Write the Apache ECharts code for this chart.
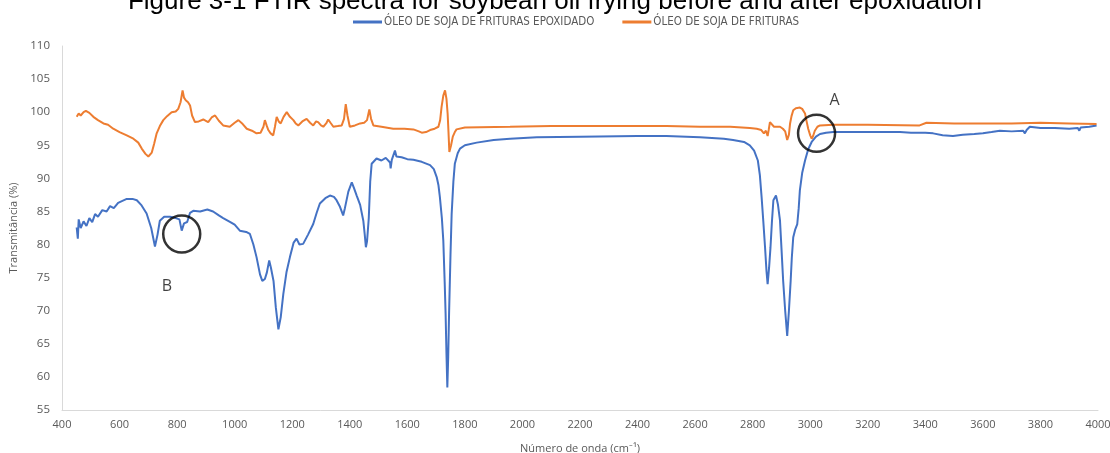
<!DOCTYPE html>
<html>
<head>
<meta charset="utf-8">
<script src="https://cdn.jsdelivr.net/npm/echarts@6/dist/echarts.min.js"></script>
<style>html,body{margin:0;padding:0;background:#fff;}#c{width:1110px;height:453px;}</style>
</head>
<body>
<div id="c"></div>
<script>
const titleText = "Figure 3-1 FTIR spectra for soybean oil frying before and after epoxidation";
const seriesNames = ["ÓLEO DE SOJA DE FRITURAS EPOXIDADO", "ÓLEO DE SOJA DE FRITURAS"];
const xAxisName = "Número de onda (cm⁻¹)";
const yAxisName = "Transmitância (%)";

const blueWn = [451,455,458,465,475,485,495,505,515,525,540,555,567,580,595,610,625,645,660,675,694,710,723,732,740,755,775,795,808,816,824,835,845,856,880,905,925,945,960,985,1000,1018,1040,1053,1065,1076,1088,1096,1105,1112,1120,1126,1135,1143,1152,1160,1169,1180,1192,1205,1215,1225,1238,1255,1273,1285,1296,1315,1331,1345,1354,1365,1377,1383,1395,1407,1415,1424,1436,1447,1452,1456,1460,1466,1471,1476,1493,1510,1525,1540,1542,1546,1552,1557,1562,1580,1600,1621,1650,1679,1692,1702,1708,1713,1720,1725,1730,1733,1736,1739,1742,1745,1750,1754,1760,1765,1775,1783,1800,1841,1900,1957,2050,2200,2400,2500,2617,2700,2732,2770,2790,2805,2818,2825,2831,2837,2843,2848,2852,2857,2862,2867,2872,2881,2888,2895,2900,2906,2913,2920,2926,2932,2936,2941,2948,2955,2960,2964,2972,2982,2993,3005,3020,3034,3055,3080,3200,3312,3350,3400,3427,3460,3496,3530,3570,3600,3630,3659,3700,3740,3746,3752,3763,3800,3850,3900,3930,3935,3940,3970,3995];
const blueT = [82.6,80.9,83.8,82.5,83.5,82.8,84.0,83.4,84.6,84.2,85.2,85.0,85.8,85.5,86.3,86.6,86.9,86.9,86.7,86.0,84.7,82.5,79.7,81.5,83.6,84.2,84.2,84.0,83.8,82.1,83.2,83.4,84.8,85.1,85.0,85.3,85.0,84.4,84.0,83.4,83.0,82.1,81.9,81.6,80.0,78.1,75.5,74.5,74.8,75.8,77.6,76.5,74.5,70.5,67.2,69.0,72.5,75.8,78.1,80.3,80.9,80.0,80.1,81.5,83.1,84.8,86.2,87.0,87.4,87.2,86.7,85.8,84.4,85.5,88.0,89.4,88.5,87.4,86.0,83.6,81.5,79.6,80.5,84.0,89.5,92.2,93.0,92.7,93.1,92.4,91.5,92.8,92.9,94.2,93.3,93.2,92.9,92.8,92.5,92.0,91.4,90.2,89.0,87.2,84.0,80.6,74.0,69.5,63.5,58.4,63.0,69.5,78.5,84.6,89.5,92.2,93.8,94.5,95.0,95.4,95.8,96.0,96.2,96.3,96.4,96.4,96.2,96.0,95.8,95.5,95.0,94.2,92.7,90.5,87.2,83.5,79.6,76.0,74.0,76.5,79.6,83.5,86.7,87.4,86.0,83.6,79.5,74.5,70.0,66.2,70.0,74.5,78.0,81.1,82.3,83.1,85.5,88.2,90.8,92.7,94.4,95.5,96.3,96.7,96.9,97.0,97.0,97.0,96.9,96.9,96.8,96.5,96.4,96.6,96.7,96.8,97.0,97.2,97.1,97.2,96.8,97.3,97.8,97.6,97.6,97.5,97.6,97.2,97.7,97.8,98.0];

const orangeWn = [451,458,465,475,483,495,509,525,544,560,578,600,625,648,665,677,690,700,712,720,729,740,752,765,781,795,804,812,819,824,830,838,845,852,862,875,891,900,908,920,932,945,960,983,1000,1013,1028,1042,1060,1076,1090,1100,1105,1111,1117,1125,1134,1140,1146,1153,1160,1170,1181,1192,1204,1212,1221,1235,1250,1262,1273,1283,1290,1300,1308,1318,1325,1333,1343,1358,1372,1380,1386,1392,1400,1418,1436,1450,1460,1468,1474,1482,1510,1551,1590,1621,1640,1650,1665,1679,1695,1708,1714,1719,1725,1731,1736,1740,1743,1746,1752,1758,1765,1771,1800,1957,2100,2300,2500,2617,2722,2790,2814,2830,2839,2846,2852,2856,2860,2866,2874,2895,2905,2913,2920,2926,2930,2935,2941,2950,2964,2972,2982,2988,2993,3000,3005,3010,3016,3025,3034,3080,3200,3380,3404,3500,3600,3700,3800,3900,3995];
const orangeT = [99.3,99.8,99.5,100.0,100.2,99.9,99.3,98.8,98.3,98.1,97.5,97.0,96.5,96.0,95.4,94.5,93.7,93.3,93.9,95.2,96.8,97.9,98.8,99.4,100.0,100.1,100.5,101.5,103.3,102.2,101.8,101.5,101.0,99.5,98.5,98.6,98.9,98.7,98.5,99.2,99.5,98.7,98.0,97.8,98.4,98.8,98.2,97.5,97.2,96.8,96.9,97.8,98.8,98.0,97.3,96.8,96.5,97.8,99.3,98.6,98.3,99.3,100.0,99.3,98.8,98.3,98.0,98.6,99.0,98.4,98.0,98.6,98.5,98.0,97.8,98.3,98.9,98.4,97.8,97.9,98.0,99.0,101.2,99.5,97.8,98.0,98.3,98.4,98.8,100.4,99.0,98.0,97.8,97.5,97.5,97.4,97.1,96.9,97.0,97.3,97.5,97.8,98.8,100.8,102.5,103.3,102.0,99.8,97.0,94.0,95.0,96.3,97.0,97.4,97.7,97.8,97.9,97.9,97.9,97.8,97.8,97.6,97.5,97.3,96.8,97.2,96.4,97.4,98.5,98.2,97.8,97.8,97.5,97.1,95.8,96.6,98.3,99.4,100.3,100.6,100.7,100.5,99.8,98.5,97.5,96.5,96.0,96.4,97.2,97.8,98.0,98.1,98.1,98.0,98.4,98.3,98.3,98.3,98.4,98.3,98.2];

const circleMarks = [[3022, 96.8], [816, 81.6]];
const letterLabels = [["A", 3085, 101.7], ["B", 765, 73.7]];

const xTicks = {min: 400, max: 4000, interval: 200};
const yTicks = {min: 55, max: 110, interval: 5};

const zip = (a, b) => a.map((v, i) => [v, b[i]]);

const chart = echarts.init(document.getElementById('c'));
chart.setOption({
  animation: false,
  backgroundColor: '#fff',
  title: {
    text: titleText,
    left: 'center',
    top: -11,
    padding: 0,
    textStyle: {fontFamily: 'Liberation Sans', fontSize: 26, fontWeight: 'normal', color: '#000'}
  },
  legend: {
    data: seriesNames,
    left: 348,
    top: 11,
    icon: 'rect',
    itemWidth: 29,
    itemHeight: 3,
    itemGap: 28,
    textStyle: {fontFamily: 'DejaVu Sans Condensed', fontSize: 11.5, color: '#595959', padding: [0, 0, 0, -3]}
  },
  grid: {left: 62, right: 12, top: 46, bottom: 43, containLabel: false, outerBoundsMode: 'none'},
  xAxis: {
    type: 'value',
    min: xTicks.min, max: xTicks.max, interval: xTicks.interval,
    name: xAxisName,
    nameLocation: 'middle',
    nameGap: 33,
    nameTextStyle: {fontFamily: 'Open Sans', fontSize: 11, color: '#595959'},
    axisLine: {show: true, lineStyle: {color: '#d9d9d9', width: 1}},
    axisTick: {show: false},
    splitLine: {show: false},
    axisLabel: {fontFamily: 'Open Sans', fontSize: 11, color: '#595959', margin: 9, formatter: v => String(v)}
  },
  yAxis: {
    type: 'value',
    min: yTicks.min, max: yTicks.max, interval: yTicks.interval,
    name: yAxisName,
    nameLocation: 'middle',
    nameGap: 30,
    nameTextStyle: {fontFamily: 'Open Sans', fontSize: 11, color: '#595959'},
    axisLine: {show: true, lineStyle: {color: '#d9d9d9', width: 1}},
    axisTick: {show: false},
    splitLine: {show: false},
    axisLabel: {fontFamily: 'Open Sans', fontSize: 11.5, color: '#595959', margin: 12}
  },
  series: [
    {
      name: seriesNames[0], type: 'line', data: zip(blueWn, blueT),
      showSymbol: false, symbol: 'none', smooth: false,
      lineStyle: {color: '#4472C4', width: 2}, itemStyle: {color: '#4472C4'}, z: 2
    },
    {
      name: seriesNames[1], type: 'line', data: zip(orangeWn, orangeT),
      showSymbol: false, symbol: 'none', smooth: false,
      lineStyle: {color: '#ED7D31', width: 2}, itemStyle: {color: '#ED7D31'}, z: 3
    },
    {
      name: 'circles', type: 'scatter', data: circleMarks,
      symbol: 'circle', symbolSize: 37,
      itemStyle: {color: 'rgba(0,0,0,0)', borderColor: '#000', borderWidth: 2.5}, z: 5, silent: true
    },
    {
      name: 'letters', type: 'scatter', data: letterLabels.map(d => ({value: [d[1], d[2]], name: d[0]})),
      symbolSize: 0,
      label: {show: true, position: 'inside', formatter: p => p.name, fontFamily: 'Open Sans', fontSize: 16, color: '#111'},
      z: 5, silent: true
    }
  ]
});
</script>
</body>
</html>
